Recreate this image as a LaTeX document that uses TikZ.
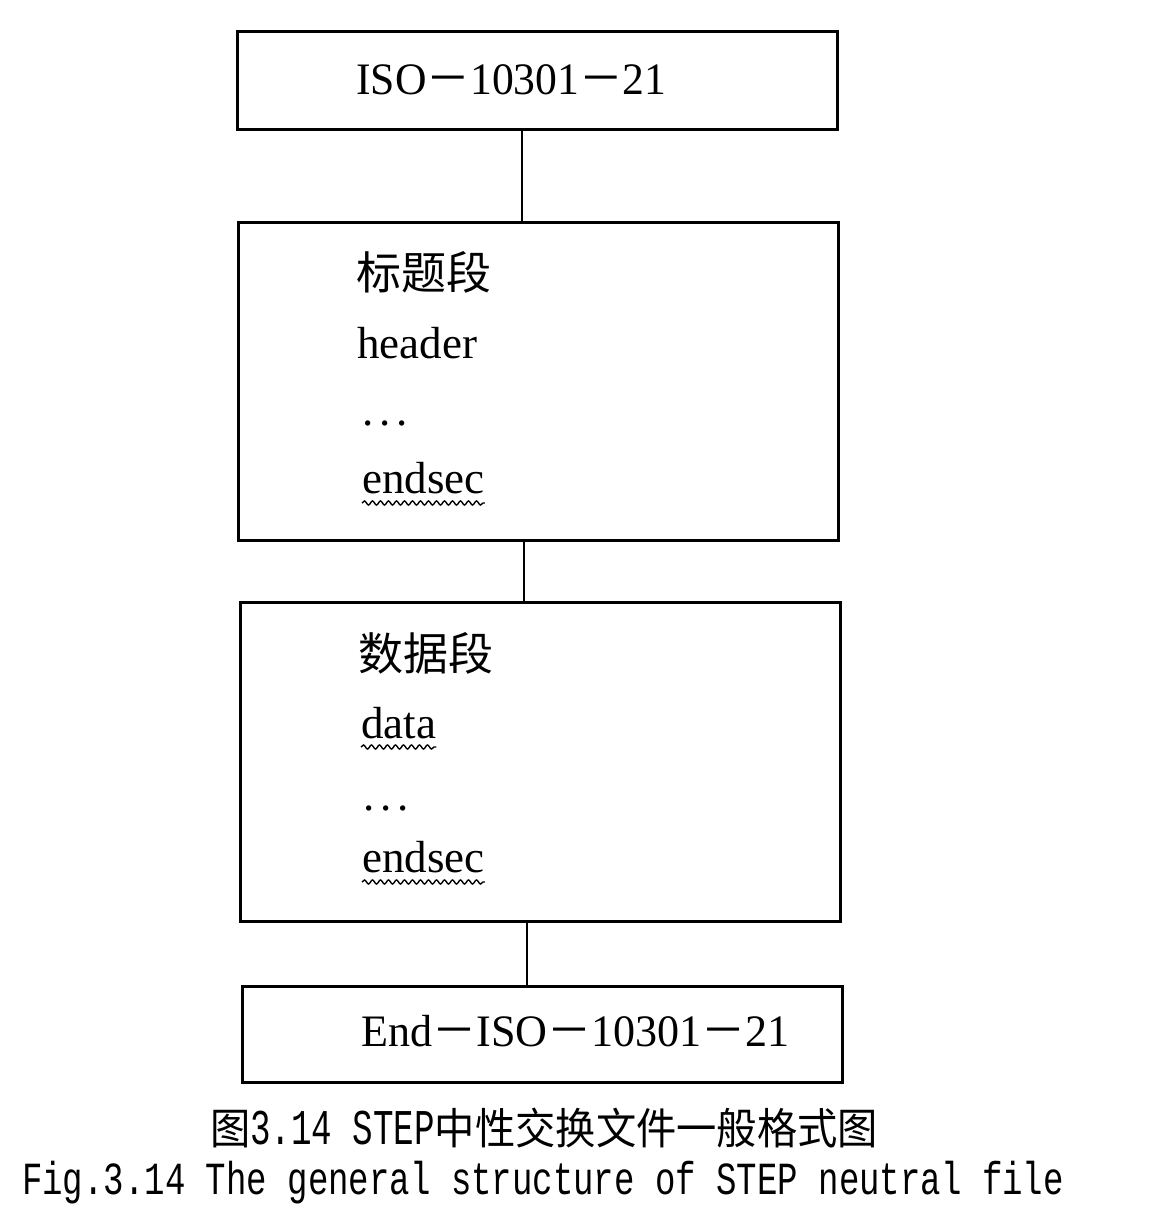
\documentclass[tikz,border=0pt]{standalone}
\usepackage{fontspec}
\usepackage{graphicx}
\setmainfont{Liberation Serif}
\newfontfamily\cjk{Noto Sans CJK SC}
\newfontfamily\capmono{Liberation Mono}
\usetikzlibrary{decorations.pathmorphing}
\newcommand{\threedots}{.\hspace{6pt}.\hspace{6pt}.}
\begin{document}
\begin{tikzpicture}[x=1pt,y=-1pt,
  box/.style={draw=black,line width=2.6pt,minimum width=600pt,inner sep=0pt,anchor=north west},
  link/.style={draw=black,line width=2.4pt},
  txt/.style={anchor=base west,inner sep=0pt,font=\fontsize{45}{50}\selectfont},
  boxtxt/.style={anchor=west,inner sep=0pt,font=\fontsize{45}{50}\selectfont},
  cjktxt/.style={anchor=west,inner sep=0pt,font=\cjk\fontsize{45}{50}\selectfont},
  wavy/.style={draw=black,line width=1.4pt,decorate,decoration={snake,amplitude=2pt,segment length=8pt}}]
\useasboundingbox (0,0) rectangle (1174,1214);
% boxes
\node[box,minimum height=98pt] (iso) at (236,30) {};
\node[box,minimum height=318pt] (hdr) at (237,221) {};
\node[box,minimum height=319pt] (dat) at (239,601) {};
\node[box,minimum height=96pt] (endb) at (241,985) {};
% connectors
\coordinate (c1a) at (522,128);
\draw[link] (iso.south -| c1a) -- (hdr.north -| c1a);
\coordinate (c2a) at (524,540);
\draw[link] (hdr.south -| c2a) -- (dat.north -| c2a);
\coordinate (c3a) at (527,920);
\draw[link] (dat.south -| c3a) -- (endb.north -| c3a);
% texts
\node[boxtxt] (t1) at (356,80) {\scalebox{0.97}[1]{ISO{\cjk －}10301{\cjk －}21}};
\node[cjktxt] (h1) at (356,272) {标题段};
\node[txt] (h2) at (357,358) {header};
\node[txt] (h3) at (362,425) {\threedots};
\node[txt] (h4) at (362,493) {endsec};
\node[cjktxt] (d1) at (358,653) {数据段};
\node[txt] (d2) at (361,738) {data};
\node[txt] (d3) at (363,810) {\threedots};
\node[txt] (d4) at (362,872) {endsec};
\node[boxtxt] (e1) at (361,1031) {\scalebox{0.98}[1]{End{\cjk －}ISO{\cjk －}10301{\cjk －}21}};
% wavy underlines
\draw[wavy] ([yshift=-10pt]h4.base west) -- ([yshift=-10pt]h4.base east);
\draw[wavy] ([yshift=-9pt]d2.base west) -- ([yshift=-9pt]d2.base east);
\draw[wavy] ([yshift=-10pt]d4.base west) -- ([yshift=-10pt]d4.base east);
% captions
\node[inner sep=0pt,font=\cjk\fontsize{43}{46}\selectfont] (cap1) at (544,1128) {\resizebox{668pt}{\height}{图{\capmono\fontsize{50}{54}\selectfont\scalebox{0.73}[1]{3.14 STEP}}中性交换文件一般格式图}};
\node[inner sep=0pt,font=\capmono\fontsize{46}{50}\selectfont] (cap2) at (543,1183) {\scalebox{0.74}[1]{Fig.3.14 The general structure of STEP neutral file}};
\end{tikzpicture}
\end{document}
